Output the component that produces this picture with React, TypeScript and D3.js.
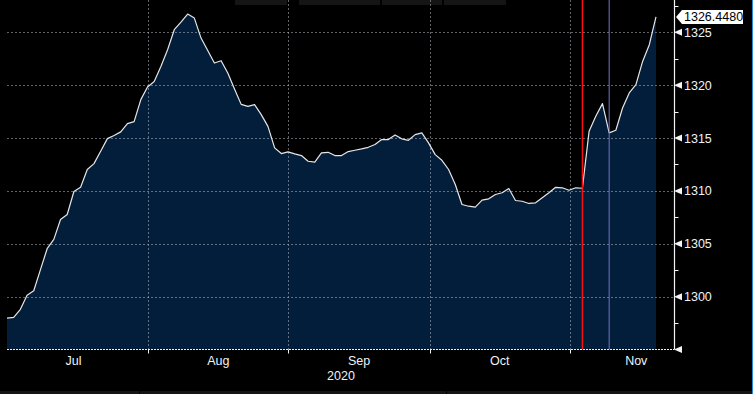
import React from 'react';
import * as d3 from 'd3';

// daily closes, Jul 1 -> Nov 19 (trading days)
const values = [
  1297.97, 1298.04, 1298.8, 1300.12, 1300.56, 1302.55, 1304.53, 1305.41, 1307.29, 1307.77,
  1309.94, 1310.34, 1312.02, 1312.58, 1313.74, 1314.94, 1315.23, 1315.58, 1316.36, 1316.55,
  1318.63, 1319.83, 1320.35, 1321.77, 1323.35, 1325.24, 1325.96, 1326.72, 1326.34, 1324.45,
  1323.28, 1322.09, 1322.31, 1321.15, 1319.64, 1318.18, 1317.99, 1318.15, 1317.21, 1316.1,
  1314.07, 1313.53, 1313.69, 1313.5, 1313.34, 1312.8, 1312.71, 1313.59, 1313.65, 1313.34,
  1313.34, 1313.72, 1313.84, 1313.97, 1314.12, 1314.38, 1314.85, 1314.85, 1315.29, 1314.92,
  1314.78, 1315.32, 1315.48, 1314.54, 1313.43, 1312.89, 1312.02, 1310.6, 1308.71, 1308.55,
  1308.46, 1309.12, 1309.25, 1309.66, 1309.82, 1310.22, 1309.09, 1309.02, 1308.81, 1308.87,
  1309.34, 1309.82, 1310.34, 1310.29, 1310.06, 1310.29, 1310.25, 1315.63, 1317.05, 1318.25,
  1315.48, 1315.73, 1317.84, 1319.26, 1320.04, 1322.24, 1323.82, 1326.448,
];

// month boundaries in trading-day index units
const monthStarts = [-1.2, 21.1, 42.05, 63.2, 84.1, 104];
const monthLabels = ['Jul', 'Aug', 'Sep', 'Oct', 'Nov'];
const yearLabel = '2020';

const majorTicks = [1295, 1300, 1305, 1310, 1315, 1320, 1325];
const minorTicks = [1297.5, 1302.5, 1307.5, 1312.5, 1317.5, 1322.5, 1327.5];

// vertical markers (index of the day)
const redMarker = 86;
const blueMarker = 90;

const lastLabel = '1326.4480';

export default function App() {
  const W = 753;
  const H = 394;
  const left = 7;
  const axisX = 674;
  const bottom = 349.5;

  const x = d3.scaleLinear().domain([0, values.length - 1]).range([left, 656]);
  const y = d3.scaleLinear().domain([1295, 1328.05]).range([bottom, 0]);

  const area = d3.area<number>()
    .x((d, i) => x(i))
    .y0(bottom)
    .y1(d => y(d));
  const line = d3.line<number>()
    .x((d, i) => x(i))
    .y(d => y(d));

  const font = '"Liberation Sans", Arial, sans-serif';
  const textColor = '#eef2f8';
  const gridColor = 'rgba(175,180,190,0.55)';

  const last = values[values.length - 1];

  return (
    <svg
      width={W}
      height={H}
      style={{ position: 'absolute', left: 0, top: 0, display: 'block' }}
    >
      <rect x={0} y={0} width={W} height={H} fill="#000" />

      {/* top tab strips */}
      <rect x={235} y={0} width={52} height={5} fill="#151515" />
      <rect x={299} y={0} width={81} height={5} fill="#151515" />
      <rect x={382} y={0} width={60} height={5} fill="#151515" />
      <rect x={444} y={0} width={62} height={5} fill="#151515" />
      <rect x={0} y={391} width={W} height={3} fill="#141414" />
      <line x1={139.5} x2={139.5} y1={391} y2={394} stroke="#000" />
      <line x1={446.5} x2={446.5} y1={391} y2={394} stroke="#000" />

      {/* area */}
      <path d={area(values) ?? ''} fill="#031e3b" />

      {/* horizontal grid */}
      {majorTicks.filter(t => t > 1295).map(t => (
        <line key={'h' + t} x1={left} x2={axisX} y1={Math.round(y(t)) + 0.5} y2={Math.round(y(t)) + 0.5}
          stroke={gridColor} strokeDasharray="2,2" />
      ))}
      {/* vertical grid at month starts */}
      {monthStarts.slice(1, 5).map((m, i) => (
        <line key={'v' + i} x1={Math.round(x(m)) + 0.5} x2={Math.round(x(m)) + 0.5} y1={0} y2={bottom}
          stroke={gridColor} strokeDasharray="2,2" />
      ))}

      {/* price line */}
      <path d={line(values) ?? ''} fill="none" stroke="#e6e6e6" strokeWidth={1.2} strokeLinejoin="round" />

      {/* event markers */}
      <line x1={x(redMarker)} x2={x(redMarker)} y1={0} y2={bottom} stroke="#ff1010" strokeWidth={1.4} />
      <line x1={x(blueMarker)} x2={x(blueMarker)} y1={0} y2={bottom} stroke="#7474c4" strokeWidth={1} />

      {/* bottom axis */}
      <line x1={left} x2={axisX} y1={bottom} y2={bottom} stroke="#f0f0f0" strokeDasharray="2,1" />
      {monthStarts.slice(1, 5).map((m, i) => (
        <line key={'t' + i} x1={Math.round(x(m)) + 0.5} x2={Math.round(x(m)) + 0.5} y1={bottom} y2={bottom + 4}
          stroke="#f0f0f0" />
      ))}
      {monthLabels.map((lab, i) => (
        <text key={lab} x={x((monthStarts[i] + monthStarts[i + 1]) / 2)} y={365}
          textAnchor="middle" fontFamily={font} fontSize={12.5} fill={textColor}>{lab}</text>
      ))}
      <text x={341} y={380} textAnchor="middle" fontFamily={font} fontSize={12.5} fill={textColor}>{yearLabel}</text>

      {/* right axis */}
      <line x1={axisX + 0.5} x2={axisX + 0.5} y1={0} y2={bottom} stroke="#f4f4f4" strokeWidth={1.2} />
      {minorTicks.map(t => (
        <line key={'m' + t} x1={axisX} x2={axisX + 4.5} y1={Math.round(y(t)) + 0.5} y2={Math.round(y(t)) + 0.5}
          stroke="#f4f4f4" />
      ))}
      {majorTicks.map(t => (
        <g key={'M' + t}>
          <polygon
            points={`${axisX},${y(t)} ${axisX + 8},${y(t) - 3.5} ${axisX + 8},${y(t) + 3.5}`}
            fill="#f4f4f4" />
          {t > 1295 && (
            <text x={684} y={y(t)} dy="0.36em" fontFamily={font} fontSize={12.5} fill={textColor}>{t}</text>
          )}
        </g>
      ))}

      {/* last value tag */}
      <polygon
        points={`${axisX + 2},${y(last)} ${axisX + 8},${y(last) - 7} ${743},${y(last) - 7} ${743},${y(last) + 7} ${axisX + 8},${y(last) + 7}`}
        fill="#ffffff" />
      <text x={684} y={y(last)} dy="0.36em" fontFamily={font} fontSize={12.5} fill="#000">{lastLabel}</text>

      {/* right window edge */}
      <line x1={752.5} x2={752.5} y1={0} y2={H} stroke="#2a8ad8" />
    </svg>
  );
}
